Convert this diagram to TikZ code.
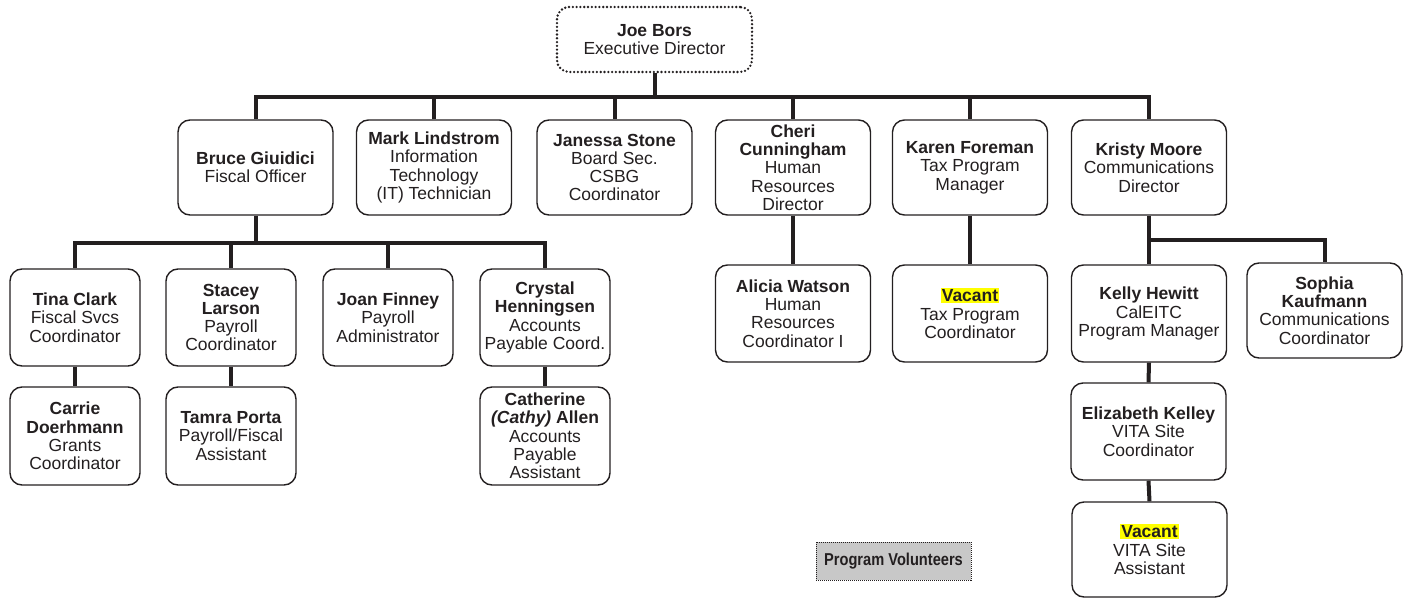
\documentclass[tikz,border=0pt]{standalone}
\usepackage{fontspec}
\setmainfont{Liberation Sans}
\newfontfamily\narrowfont[FakeStretch=0.85]{Liberation Sans}
\usetikzlibrary{calc}
\definecolor{ink}{HTML}{231F20}
\definecolor{hl}{HTML}{FFFF00}
\definecolor{volfill}{HTML}{C8C8C8}
\newcommand{\vacant}{{\setlength{\fboxsep}{1.2pt}\colorbox{hl}{\textbf{Vacant}}}}
\tikzset{
  card/.style={draw=ink, line width=1.4pt, rounded corners=12pt, align=center,
    text=ink, inner sep=0pt, font=\fontsize{17.5}{18.3}\selectfont},
  top/.style={card, minimum width=155pt, minimum height=95pt},
  lower/.style={card, minimum width=130pt, minimum height=97pt},
  right/.style={card, minimum width=155pt, minimum height=97pt},
  conn/.style={draw=ink, line width=4pt},
}
\begin{document}
\begin{tikzpicture}[x=1pt,y=-1pt]
\useasboundingbox (0,0) rectangle (1408,599);

% executive
\node[card, minimum width=195pt, minimum height=65pt, line width=2.6pt,
      dash pattern=on 0pt off 3.8pt, line cap=round] (joe) at (654.5,39.5)
  {\textbf{Joe Bors}\\Executive Director};

% direct reports
\node[top] (bruce)   at (255.5,167.5) {\textbf{Bruce Giuidici}\\Fiscal Officer};
\node[top] (mark)    at (434,167.5)   {\textbf{Mark Lindstrom}\\Information\\Technology\\(IT) Technician};
\node[top] (janessa) at (614.5,167.5) {\textbf{Janessa Stone}\\Board Sec.\\CSBG\\Coordinator};
\node[top] (cheri)   at (793,167.5)   {\textbf{Cheri}\\\textbf{Cunningham}\\Human\\Resources\\Director};
\node[top] (karen)   at (970,167.5)   {\textbf{Karen Foreman}\\Tax Program\\Manager};
\node[top] (kristy)  at (1149,167.5)  {\textbf{Kristy Moore}\\Communications\\Director};

% fiscal team
\node[lower] (tina)    at (75,317.5)  {\textbf{Tina Clark}\\Fiscal Svcs\\Coordinator};
\node[lower] (stacey)  at (231,317.5) {\textbf{Stacey}\\\textbf{Larson}\\Payroll\\Coordinator};
\node[lower] (joan)    at (388,317.5) {\textbf{Joan Finney}\\Payroll\\Administrator};
\node[lower] (crystal) at (545,317.5) {\textbf{Crystal}\\\textbf{Henningsen}\\Accounts\\Payable Coord.};
\node[lower, minimum height=98pt] (carrie)    at (75,436)  {\textbf{Carrie}\\\textbf{Doerhmann}\\Grants\\Coordinator};
\node[lower, minimum height=98pt] (tamra)     at (231,436) {\textbf{Tamra Porta}\\Payroll/Fiscal\\Assistant};
\node[lower, minimum height=98pt] (catherine) at (545,436) {\textbf{Catherine}\\\textbf{\textit{(Cathy)} Allen}\\Accounts\\Payable\\Assistant};

% HR, tax and communications teams
\node[right] (alicia)  at (793,313.5)    {\textbf{Alicia Watson}\\Human\\Resources\\Coordinator I};
\node[right] (taxvac)  at (970,313.5)    {\vacant\\Tax Program\\Coordinator};
\node[right] (kelly)   at (1149,313.5)   {\textbf{Kelly Hewitt}\\CalEITC\\Program Manager};
\node[right, minimum height=95pt] (sophia) at (1324.5,310.5) {\textbf{Sophia}\\\textbf{Kaufmann}\\Communications\\Coordinator};
\node[right] (eliz)    at (1148.5,431.5) {\textbf{Elizabeth Kelley}\\VITA Site\\Coordinator};
\node[right, minimum height=95pt] (vitavac) at (1149.5,549.5) {\vacant\\VITA Site\\Assistant};

% volunteers
\node[draw=ink, fill=volfill, line width=1pt, dash pattern=on 1pt off 1pt,
      minimum width=155pt, minimum height=38pt, inner sep=0pt, text=ink,
      font=\narrowfont\bfseries\fontsize{17.2}{18}\selectfont] (vol) at (893.5,561)
  {Program Volunteers};

% connectors
\coordinate (bar1) at (0,97);
\coordinate (bar2) at (0,243);
\coordinate (bar3) at (0,240);
\draw[conn] (joe.south) -- (joe.south |- bar1);
\draw[conn] (bruce.north) -- (bruce.north |- bar1) -- (kristy.north |- bar1) -- (kristy.north);
\foreach \n in {mark,janessa,cheri,karen}
  \draw[conn] (\n.north) -- (\n.north |- bar1);

\draw[conn] (bruce.south) -- (bruce.south |- bar2);
\draw[conn] (tina.north) -- (tina.north |- bar2) -- (crystal.north |- bar2) -- (crystal.north);
\foreach \n in {stacey,joan}
  \draw[conn] (\n.north) -- (\n.north |- bar2);
\draw[conn] (tina.south) -- (carrie.north);
\draw[conn] (stacey.south) -- (tamra.north);
\draw[conn] (crystal.south) -- (catherine.north);

\draw[conn] (cheri.south) -- (alicia.north);
\draw[conn] (karen.south) -- (taxvac.north);

\draw[conn] (kristy.south) -- (kelly.north);
\draw[conn] (kristy.south |- bar3) -| (sophia.north);
\draw[conn] (kelly.south) -- (eliz.north);
\draw[conn] (eliz.south) -- (vitavac.north);
\end{tikzpicture}
\end{document}
